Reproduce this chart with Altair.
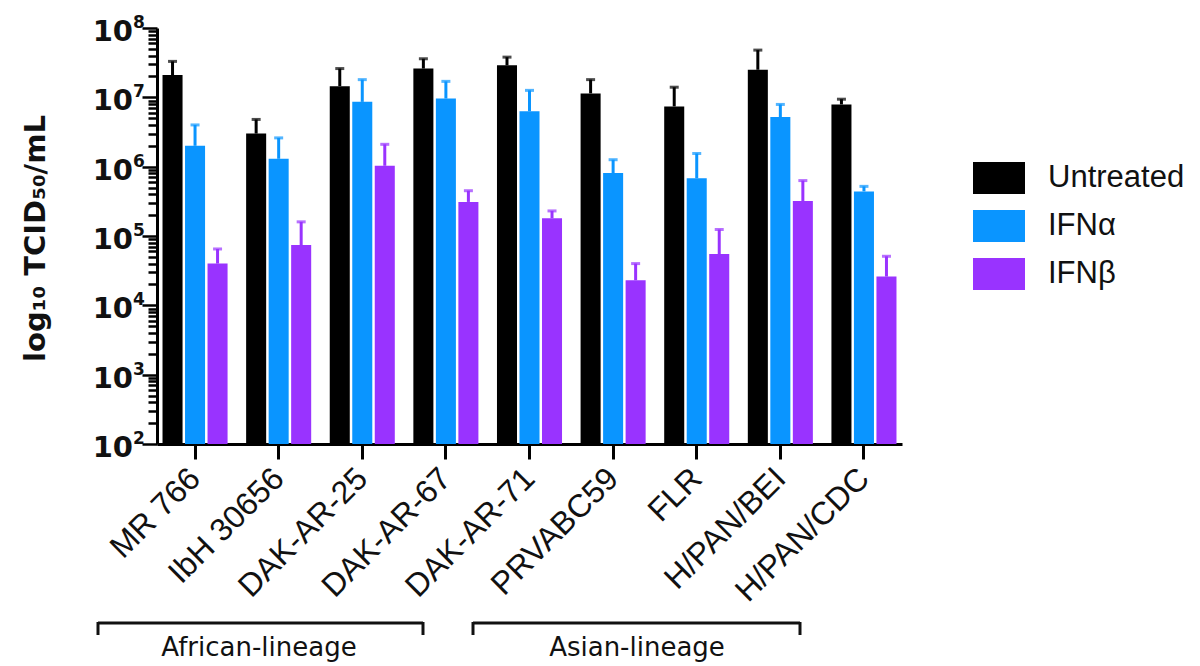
import altair as alt
import pandas as pd

strains = ["MR 766", "IbH 30656", "DAK-AR-25", "DAK-AR-67", "DAK-AR-71",
           "PRVABC59", "FLR", "H/PAN/BEI", "H/PAN/CDC"]
treatments = ["Untreated", "IFNα", "IFNβ"]
colors = ["#000000", "#0A95FF", "#9933FF"]

untreated = [2.1e7, 3.0e6, 1.45e7, 2.6e7, 2.9e7, 1.14e7, 7.4e6, 2.5e7, 7.9e6]
untreated_hi = [3.3e7, 4.8e6, 2.6e7, 3.6e7, 3.8e7, 1.8e7, 1.4e7, 4.8e7, 9.4e6]
ifna = [2.0e6, 1.3e6, 8.6e6, 9.6e6, 6.3e6, 8.1e5, 6.8e5, 5.2e6, 4.4e5]
ifna_hi = [4.0e6, 2.6e6, 1.8e7, 1.7e7, 1.26e7, 1.26e6, 1.55e6, 7.9e6, 5.2e5]
ifnb = [4.0e4, 7.4e4, 1.03e6, 3.1e5, 1.8e5, 2.3e4, 5.5e4, 3.2e5, 2.6e4]
ifnb_hi = [6.5e4, 1.6e5, 2.1e6, 4.5e5, 2.3e5, 4.0e4, 1.24e5, 6.3e5, 5.1e4]

decades = [1e2, 1e3, 1e4, 1e5, 1e6, 1e7, 1e8]
exponents = ["2", "3", "4", "5", "6", "7", "8"]
groups = ["African-lineage", "Asian-lineage"]

rows = []
for i, s in enumerate(strains):
    for t, m, hi in zip(treatments,
                        [untreated[i], ifna[i], ifnb[i]],
                        [untreated_hi[i], ifna_hi[i], ifnb_hi[i]]):
        rows.append({"strain": s, "treatment": t, "mean": m, "upper": hi, "base": 100.0})
df = pd.DataFrame(rows)
ticks_df = pd.DataFrame({"value": decades, "exp": exponents})
one = pd.DataFrame({"a": [0]})

W, H = 745, 416
tick_values = [float(k * 10 ** d) for d in range(2, 8) for k in range(1, 10)] + [1e8]
yscale = alt.Scale(type="log", domain=[100, 1e8])
major_test = "abs(log(datum.value)/LN10 - round(log(datum.value)/LN10)) < 0.001"

yaxis = alt.Axis(
    values=tick_values, labels=False, grid=False,
    domainWidth=3, domainColor="black", tickColor="black", tickWidth=2.5,
    tickSize={"condition": {"test": major_test, "value": 15}, "value": 9},
    title="log₁₀ TCID₅₀/mL", titleFont="DejaVu Sans", titleFontSize=29,
    titleFontWeight="bold", titleColor="#111", titleAngle=270,
    titleX=-113, titleY=H / 2 + 2, titleAlign="center", titleBaseline="alphabetic",
)
xaxis = alt.Axis(
    title=None, labelAngle=-45, labelAlign="right", labelBaseline="middle",
    labelFontSize=32, labelFont="Liberation Sans", labelColor="#111",
    labelPadding=14, domainWidth=3, domainColor="black", tickColor="black",
    tickWidth=3, tickSize=15, labelOverlap=False, labelBound=False, grid=False,
)
xscale = alt.Scale(paddingInner=0.222, paddingOuter=0.066)
xoff_scale = alt.Scale(paddingInner=0.11, paddingOuter=0)
cscale = alt.Scale(domain=treatments, range=colors)

legend = alt.Legend(
    orient="none", legendX=816, legendY=124, title=None, padding=0,
    symbolType="M-1,-0.615H1V0.615H-1Z", symbolSize=2704, symbolStrokeWidth=0,
    symbolOpacity=1, labelFontSize=31, labelFont="Liberation Sans",
    labelColor="#111", labelOffset=23, rowPadding=6,
)

bars = alt.Chart(df).mark_bar().encode(
    x=alt.X("strain:N", sort=strains, scale=xscale, axis=xaxis),
    xOffset=alt.XOffset("treatment:N", sort=treatments, scale=xoff_scale),
    y=alt.Y("mean:Q", scale=yscale, axis=yaxis),
    y2="base:Q",
    color=alt.Color("treatment:N", sort=treatments, scale=cscale, legend=legend),
)

err = alt.Chart(df).mark_rule(strokeWidth=3).encode(
    x=alt.X("strain:N", sort=strains, scale=xscale),
    xOffset=alt.XOffset("treatment:N", sort=treatments, scale=xoff_scale),
    y=alt.Y("mean:Q", scale=yscale),
    y2="upper:Q",
    color=alt.Color("treatment:N", sort=treatments, scale=cscale, legend=None),
)

caps = alt.Chart(df).mark_tick(thickness=3, size=9).encode(
    x=alt.X("strain:N", sort=strains, scale=xscale),
    xOffset=alt.XOffset("treatment:N", sort=treatments, scale=xoff_scale),
    y=alt.Y("upper:Q", scale=yscale),
    color=alt.Color("treatment:N", sort=treatments, scale=cscale, legend=None),
)

tens = alt.Chart(ticks_df).mark_text(
    text="10", align="right", baseline="middle", dy=4, fontSize=29,
    fontWeight="bold", font="DejaVu Sans", color="#111",
).encode(x=alt.value(-24), y=alt.Y("value:Q", scale=yscale))

exps = alt.Chart(ticks_df).mark_text(
    align="left", baseline="middle", dy=-5, fontSize=17,
    fontWeight="bold", font="DejaVu Sans", color="#111",
).encode(x=alt.value(-24), y=alt.Y("value:Q", scale=yscale), text="exp:N")


def bracket(x1, x2, label, xc):
    top = alt.Chart(one).mark_rule(strokeWidth=3, color="#111").encode(
        x=alt.value(x1), x2=alt.value(x2), y=alt.value(595))
    left = alt.Chart(one).mark_rule(strokeWidth=3, color="#111").encode(
        x=alt.value(x1), y=alt.value(594), y2=alt.value(607))
    right = alt.Chart(one).mark_rule(strokeWidth=3, color="#111").encode(
        x=alt.value(x2), y=alt.value(594), y2=alt.value(607))
    txt = alt.Chart(one).mark_text(
        text=label, align="center", baseline="alphabetic", fontSize=26,
        font="DejaVu Sans", color="#111",
    ).encode(x=alt.value(xc), y=alt.value(628))
    return [top, left, right, txt]


layers = [bars, err, caps, tens, exps]
layers += bracket(-59, 266, groups[0], 102)
layers += bracket(316, 643, groups[1], 480)

chart = alt.layer(*layers).properties(
    width=W, height=H,
    autosize=alt.AutoSizeParams(type="none"),
    padding={"left": 149, "top": 20, "right": 290, "bottom": 222},
    background="white",
).configure_view(strokeWidth=0)

chart.save("out.html", embed_options={"renderer": "svg", "actions": False})
